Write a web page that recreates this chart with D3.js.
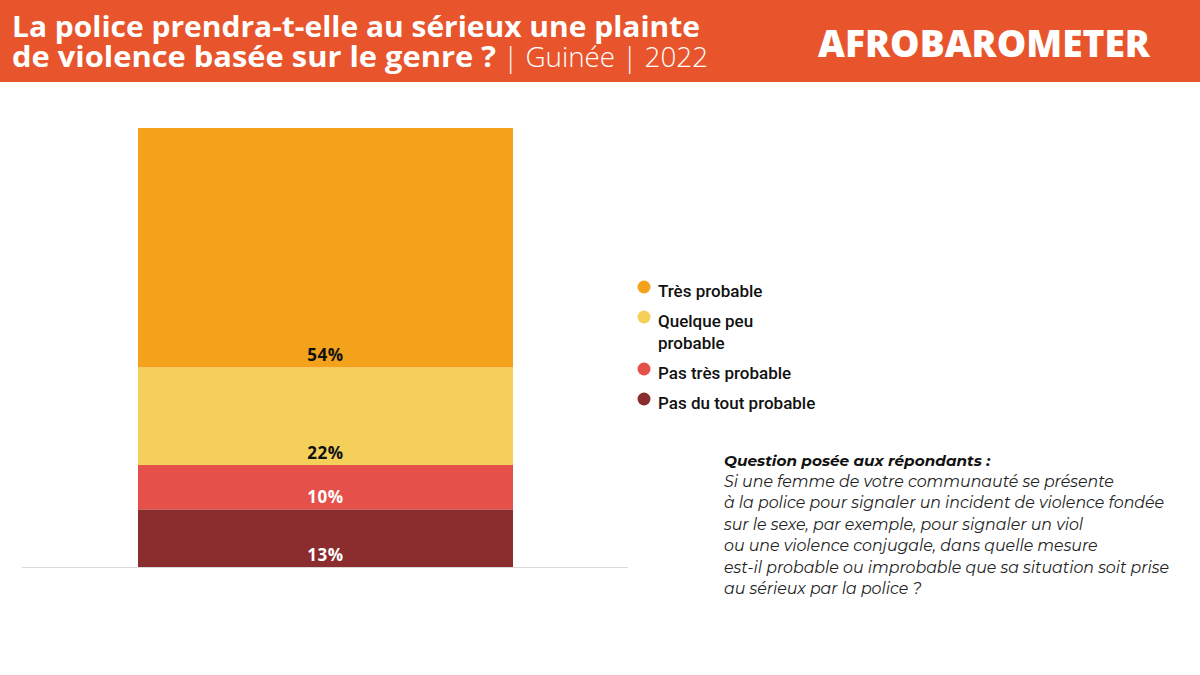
<!DOCTYPE html>
<html><head><meta charset="utf-8">
<script src="https://cdn.jsdelivr.net/npm/d3@7"></script>
<style>
body{margin:0;background:#fff;}
svg{display:block;}
</style></head>
<body><svg id="c" width="1200" height="675"></svg>
<script>
const titleLine1 = "La police prendra-t-elle au sérieux une plainte";
const titleLine2Bold = "de violence basée sur le genre ?";
const titleLine2Rest = " | Guinée | 2022";
const categories = ["Pas du tout probable","Pas très probable","Quelque peu probable","Très probable"];
const values = [13, 10, 22, 54];
const valueLabels = ["13%","10%","22%","54%"];
const colors = ["#8B2C2E","#E5504A","#F4CF5A","#F4A11B"];
const labelColors = ["#fff","#fff","#111","#111"];
const legendItems = [["Très probable"],["Quelque peu","probable"],["Pas très probable"],["Pas du tout probable"]];
const legendColors = ["#F4A11B","#F4CF5A","#E5504A","#8B2C2E"];
const questionTitle = "Question posée aux répondants :";
const questionLines = ["Si une femme de votre communauté se présente",
 "à la police pour signaler un incident de violence fondée",
 "sur le sexe, par exemple, pour signaler un viol",
 "ou une violence conjugale, dans quelle mesure",
 "est-il probable ou improbable que sa situation soit prise",
 "au sérieux par la police ?"];

const svg = d3.select("#c");
svg.append("rect").attr("x",0).attr("y",0).attr("width",1200).attr("height",82).attr("fill","#E8552C");
const tf = "'Open Sans', 'Noto Sans', sans-serif";
svg.append("text").attr("x",12).attr("y",37).attr("fill","#fff").attr("font-family",tf)
  .attr("font-weight",700).attr("font-size",28).attr("textLength",688).attr("lengthAdjust","spacingAndGlyphs")
  .text(titleLine1);
const t2 = svg.append("text").attr("x",12).attr("y",67).attr("fill","#fff").attr("font-family",tf).attr("font-size",28);
t2.append("tspan").attr("font-weight",700).attr("textLength",484).attr("lengthAdjust","spacingAndGlyphs").text(titleLine2Bold);
t2.append("tspan").attr("font-weight",300).attr("textLength",212).attr("lengthAdjust","spacingAndGlyphs").text(titleLine2Rest);

// logo
svg.append("text").attr("x",1150).attr("y",57).attr("text-anchor","end").attr("fill","#fff")
  .attr("font-family","'Open Sans', sans-serif").attr("font-weight",800).attr("font-size",37)
  .attr("textLength",332).attr("lengthAdjust","spacingAndGlyphs").text("AFROBAROMETER");

// chart
const y = d3.scaleLinear().domain([0, d3.sum(values)]).range([567, 128]);
const x0 = 138, x1 = 513;
let cum = 0;
const segs = values.map((v,i)=>{const s={v, i, y0:cum, y1:cum+v}; cum+=v; return s;});
svg.selectAll("rect.seg").data(segs).enter().append("rect").attr("class","seg")
  .attr("x",x0).attr("width",x1-x0)
  .attr("y",d=>y(d.y1)).attr("height",d=>y(d.y0)-y(d.y1))
  .attr("fill",d=>colors[d.i]);
svg.selectAll("text.val").data(segs).enter().append("text").attr("class","val")
  .attr("x",(x0+x1)/2).attr("y",d=>y(d.y0)-6).attr("text-anchor","middle")
  .attr("font-family","'Open Sans', sans-serif").attr("font-weight",700).attr("font-size",17)
  .attr("letter-spacing",0.6)
  .attr("fill",d=>labelColors[d.i]).text(d=>valueLabels[d.i]);
svg.append("line").attr("x1",22).attr("x2",628).attr("y1",567.5).attr("y2",567.5)
  .attr("stroke","#d9d9d9").attr("stroke-width",1);

// legend
const legY = [287, 317, 369, 399];
legendItems.forEach((lines,i)=>{
  svg.append("circle").attr("cx",644).attr("cy",legY[i]).attr("r",6.5).attr("fill",legendColors[i]);
  lines.forEach((l,j)=>{
    svg.append("text").attr("x",658).attr("y",legY[i]+10+j*22).attr("font-family","Roboto, sans-serif")
      .attr("font-weight",500).attr("font-size",17).attr("fill","#111").text(l);
  });
});

// question
const qf = "Montserrat, 'Open Sans', sans-serif";
svg.append("text").attr("x",724).attr("y",466).attr("font-family",qf).attr("font-style","italic")
  .attr("font-weight",700).attr("font-size",15.3).attr("fill","#111").text(questionTitle);
questionLines.forEach((l,i)=>{
  svg.append("text").attr("x",724).attr("y",487+i*21.4).attr("font-family",qf).attr("font-style","italic")
    .attr("font-weight",400).attr("font-size",15.8).attr("fill","#222").text(l);
});
</script></body></html>
